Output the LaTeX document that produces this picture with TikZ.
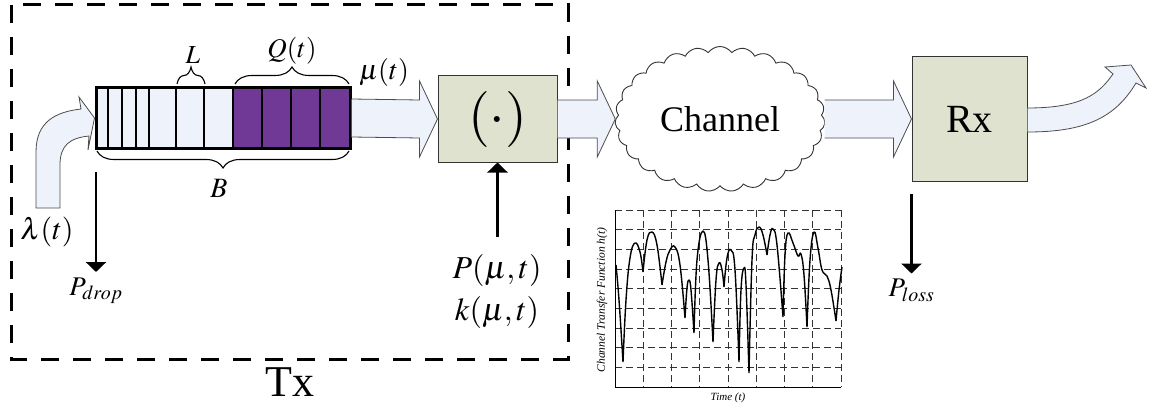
\documentclass[tikz,border=0pt]{standalone}
\usepackage{mathptmx}
\usepackage[no-math]{fontspec}
\setmainfont{Liberation Serif}
\usepackage{tikz}
\usetikzlibrary{arrows.meta, positioning, calc, shapes.symbols, decorations.pathreplacing}
\definecolor{cFlow}{RGB}{238,242,250}
\definecolor{cBox}{RGB}{222,226,206}
\definecolor{cQueue}{RGB}{112,57,150}
\newcommand{\fsz}[1]{\fontsize{#1}{#1}\selectfont}

\begin{document}
\begin{tikzpicture}[x=1pt, y=-1pt,
      blk/.style={draw=black!80, fill=cBox, line width=1pt, inner sep=0pt},
      flow/.style={draw=black!70, fill=cFlow, line width=0.8pt},
      brc/.style={decorate, decoration={brace, amplitude=17pt}, line width=1.1pt},
      down/.style={-{Triangle[width=20pt,length=10pt]}, line width=2.5pt},
      grd/.style={dash pattern=on 7pt off 4pt, line width=0.8pt, black!80},
      fade/.style={smooth, tension=0.7},
      lbl/.style={inner sep=0pt}]
    \useasboundingbox (0,0) rectangle (1149,404);
    % transmitter frame
    \draw[line width=3pt, dash pattern=on 18pt off 14pt] (11,5) rectangle (568,359);
    \node[lbl, font=\fsz{44}] (tx) at (290,382) {Tx};

    % queue
    \fill[cFlow] (96,88) rectangle (233,148);
    \fill[cQueue] (233,88) rectangle (350,148);
    \foreach \x in {108,122,136,149,176,204,233,262,291,320}
      \draw[line width=2.5pt] (\x,88) -- (\x,148);
    \node[draw, line width=3pt, minimum width=254pt, minimum height=60pt, inner sep=0pt] (queue) at (223,118) {};
    \draw[brc] (177,84) -- (205,84);
    \draw[brc] (235,84) -- (349,84);
    \draw[brc] (349,151) -- (97,151);
    \node[lbl, font=\fsz{26}] (lenL) at (193,55) {$L$};
    \node[lbl, font=\fsz{27}] (qlen) at (292,51) {$Q(t)$};
    \node[lbl, font=\fsz{28}] (bufB) at (219,188) {$B$};
    \node[lbl, font=\fsz{28}] (mu) at (384,73) {$\mu(t)$};

    % blocks
    \node[blk, minimum width=119pt, minimum height=86pt, font=\fsz{56}] (op) at (497.5,119) {$(\cdot)$};
    \node[cloud, draw=black!80, line width=0.9pt, cloud puffs=27, cloud puff arc=110, aspect=1.45,
          minimum width=210pt, minimum height=145pt, inner sep=0pt, font=\fsz{36}] (chan) at (720,119) {Channel};
    \node[blk, minimum width=115pt, minimum height=124pt, font=\fsz{40}] (rx) at (969.5,119) {Rx};

    % block arrows
    \foreach \a/\b in {queue/op, op/chan, chan/rx}
      \draw[flow] ($(\a.east)+(0,-19)$) -- ($(\b.west)+(-18,-19)$) -- ($(\b.west)+(-18,-38)$) -- (\b.west)
        -- ($(\b.west)+(-18,38)$) -- ($(\b.west)+(-18,19)$) -- ($(\a.east)+(0,19)$);
    \draw[flow] (36,208) -- (36,152) .. controls (36,122) and (55,112) .. (81,109) -- (79,97) -- (queue.west)
      -- (88,150) -- (89,136) .. controls (70,138) and (60,145) .. (60,165) -- (60,208) -- cycle;
    \draw[flow] ($(rx.east)+(0,-11)$) .. controls (1085,108) and (1100,92) .. (1113,74) -- (1105,67) -- (1131,65)
      -- (1146,88) -- (1136,83) .. controls (1115,118) and (1085,132) .. ($(rx.east)+(0,13)$);
    \node[lbl, font=\fsz{30}] (lam) at (47,232) {$\lambda(t)$};

    % drops, losses, control
    \draw[down] (96,172) -- (96,272) node[below=1pt, font=\fsz{27}] (pdrop) {$P_{drop}$};
    \draw[down] ($(rx.south west)+(0,12)$) -- ++(0,80) node[below=1pt, font=\fsz{27}] (ploss) {$P_{loss}$};
    \coordinate (ctl) at (497.5,237);
    \draw[down] (ctl) -- (op.south);
    \node[lbl, font=\fsz{32}] (pwr) at (497,270) {$P(\mu,t)$};
    \node[lbl, font=\fsz{32}] (kmu) at (497,312) {$k(\mu,t)$};

    % channel transfer function
    \foreach \i in {1,...,8}
      \draw[grd] ({615+28.25*\i},210) -- ({615+28.25*\i},387);
    \foreach \j in {0,...,8}
      \draw[grd] (615,{210+19.67*\j}) -- (841,{210+19.67*\j});
    \draw[line width=1pt] (615,210) -- (615,387) -- (841,387);
    \draw[line width=1.4pt, line join=round]
      plot[fade] coordinates {(616,265) (619,300) (623,362)}
      plot[fade] coordinates {(623,362) (626,300) (630,258) (635,243) (640,252) (643,272)}
      plot[fade] coordinates {(643,272) (647,240) (652,232) (657,245) (662,285)}
      plot[fade] coordinates {(662,285) (666,262) (670,250) (675,247) (680,265) (685,318)}
      plot[fade] coordinates {(685,318) (687,288) (689,280) (691,290) (694,333)}
      plot[fade] coordinates {(694,333) (697,260) (703,231) (708,260) (713,342)}
      plot[fade] coordinates {(713,342) (716,280) (719,263) (722,270) (724,287)}
      plot[fade] coordinates {(724,287) (727,258) (731,250) (735,270) (739,362)}
      plot[fade] coordinates {(739,362) (741,290) (744,268) (746,285) (749,373)}
      plot[fade] coordinates {(749,373) (752,260) (755,235) (759,227) (763,235) (767,255)}
      plot[fade] coordinates {(767,255) (770,235) (773,229) (777,245) (783,317)}
      plot[fade] coordinates {(783,317) (785,255) (788,233) (793,243) (798,256) (801,254) (804,275) (807,327)}
      plot[fade] coordinates {(807,327) (810,260) (814,232) (818,248) (822,270) (827,276) (831,290) (836,321)}
      plot[fade] coordinates {(836,321) (839,290) (842,267)};
    \node[lbl, rotate=90, font=\fsz{11.5}\itshape] (hlab) at (602,300) {Channel Transfer Function h(t)};
    \node[lbl, font=\fsz{11}\itshape] (tlab) at (728,398) {Time (t)};
  \end{tikzpicture}
\end{document}
